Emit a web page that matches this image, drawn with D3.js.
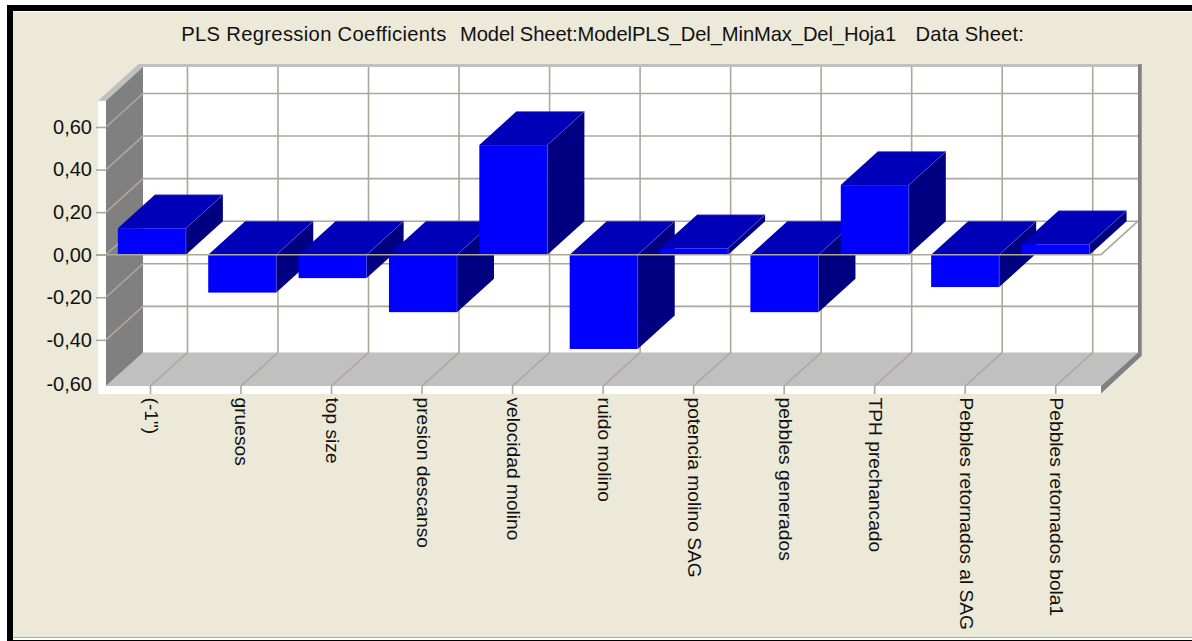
<!DOCTYPE html>
<html>
<head>
<meta charset="utf-8">
<script src="https://cdn.jsdelivr.net/npm/d3@7/dist/d3.min.js"></script>
<style>
html,body{margin:0;padding:0;background:#fff;overflow:hidden}
svg{display:block}
text{font-family:"Liberation Sans",Arial,sans-serif;fill:#111;white-space:pre}
</style>
</head>
<body>
<svg id="chart" width="1192" height="641"></svg>
<script>
// PLS regression coefficients per process variable
const categories = ['(-1")','gruesos','top size','presion descanso','velocidad molino','ruido molino','potencia molino SAG','pebbles generados','TPH prechancado','Pebbles retornados al SAG','Pebbles retornados bola1'];
const coefficients = [0.124,-0.178,-0.11,-0.27,0.515,-0.443,0.03,-0.27,0.327,-0.152,0.049];
const yTicks = [0.6,0.4,0.2,0,-0.2,-0.4,-0.6];
const titleParts = ['PLS Regression Coefficients  ','Model Sheet:ModelPLS_Del_MinMax_Del_Hoja1   ','Data Sheet:'];
const titleStarts = [181.2,460,915.5];
const titleSpacing = [0.33,-0.12,0.18];

const grid = '#aca899', beige = '#ece9d8';
const lineW = 1.6;
const depth = {x:37, y:-33.5};
const svg = d3.select('#chart');

// Bars and gridlines sit on slightly different category steps
const x = d3.scaleBand().domain(categories).range([106.7,1100.7]).paddingInner(0.247).paddingOuter(0.1235);
const gridX = d3.scaleBand().domain(categories).range([105.2,1101]);
const y = d3.scaleLinear().domain([0,0.6]).range([254.7,127]);
const floorY = 386, ceilY = 100.7, leftX = 106, rightX = 1101;
const poly = pts => pts.map(p=>p.join(',')).join(' ');
const back = (px,py) => [px+depth.x, py+depth.y];
const gridCentre = c => gridX(c)+gridX.bandwidth()/2;

// Page frame
svg.append('rect').attr('x',7).attr('y',5).attr('width',1185).attr('height',636).attr('fill','#000');
svg.append('rect').attr('x',13).attr('y',11).attr('width',1179).attr('height',629).attr('fill','#fff');
svg.append('rect').attr('x',13).attr('y',12).attr('width',1179).attr('height',625).attr('fill',beige);
svg.append('rect').attr('x',13).attr('y',637).attr('width',1179).attr('height',1).attr('fill',grid);

const title = svg.append('text').attr('y',41).attr('font-size',20.2);
titleParts.forEach((t,i)=>title.append('tspan').attr('x',titleStarts[i]).attr('letter-spacing',titleSpacing[i]).text(t));

// 3D box: front strips, walls, floor
svg.append('rect').attr('x',98).attr('y',ceilY).attr('width',8).attr('height',293.5).attr('fill','#fff');
svg.append('rect').attr('x',98).attr('y',floorY).attr('width',rightX-98).attr('height',8).attr('fill','#fff');
svg.append('polygon').attr('points',poly([[98,ceilY],[138.5,64],[1141.7,64],[1138,67],[143,67],[leftX,ceilY]])).attr('fill','#c0c0c0');
svg.append('rect').attr('x',143).attr('y',67).attr('width',995).attr('height',286.5).attr('fill','#fff');
svg.append('polygon').attr('points',poly([[leftX,ceilY],[143,67],[143,353],[leftX,floorY]])).attr('fill','#808080');
svg.append('polygon').attr('points',poly([[leftX,floorY],[143,352.5],[1138,352.5],[rightX,floorY]])).attr('fill','#c0c0c0');
svg.append('polygon').attr('points',poly([[1138,64.5],[1141.7,64],[1141.7,355.7],[rightX,393.5],[rightX,floorY],[1138,352.5]])).attr('fill','#808080');

// Gridlines on the walls and the floor
const gridLayer = svg.append('g').attr('stroke',grid).attr('stroke-width',lineW).attr('fill','none');
yTicks.filter(v=>v>-0.6).forEach(v=>{
  const [bx,by] = back(leftX,y(v));
  gridLayer.append('polyline').attr('points',poly([[leftX,y(v)],[bx,by],[1138,by]]));
});
categories.forEach(c=>{
  const fx = gridCentre(c);
  const [bx,by] = back(fx,floorY);
  gridLayer.append('polyline').attr('points',poly([[fx,floorY],[bx,by],[bx,67]]));
});
// Zero plane edge on the right-hand side
gridLayer.append('line').attr('x1',1138).attr('y1',y(0)+depth.y).attr('x2',rightX).attr('y2',y(0));

// Bars, painted left to right so nearer faces overlap
const bars = svg.append('g').selectAll('g').data(coefficients).join('g');
const bw = x.bandwidth();
bars.each(function(v,i){
  const g = d3.select(this);
  const l = x(categories[i]), r = l+bw;
  const top = y(Math.max(v,0)), bot = y(Math.min(v,0));
  g.append('polygon').attr('points',poly([[r,top],back(r,top),back(r,bot),[r,bot]])).attr('fill','#000080');
  g.append('polygon').attr('points',poly([[l,top],back(l,top),back(r,top),[r,top]])).attr('fill','#0000b8');
  g.append('rect').attr('x',l).attr('y',top).attr('width',bw).attr('height',bot-top).attr('fill','#0000ff');
  g.append('polyline').attr('points',poly([back(l,top),back(r,top),[r,top],[r,bot]])).attr('fill','none').attr('stroke','#5a5ad0').attr('stroke-width',0.6);
});

// Zero baseline crosses in front of the bars
svg.append('line').attr('x1',96).attr('x2',rightX).attr('y1',y(0)).attr('y2',y(0)).attr('stroke',grid).attr('stroke-width',lineW);

// Value axis
const comma = d3.formatLocale({decimal:',',thousands:'.',grouping:[3],currency:['',''],minus:'-'}).format('.2f');
const yAxis = svg.append('g').attr('transform',`translate(${leftX},0)`)
  .call(d3.axisLeft(y).tickValues(yTicks).tickFormat(comma).tickSize(10).tickPadding(4));
yAxis.attr('font-family',null);
yAxis.select('.domain').remove();
yAxis.selectAll('.tick line').attr('stroke',grid).attr('stroke-width',lineW).filter(d=>d===-0.6).remove();
yAxis.selectAll('.tick text').attr('font-size',20).attr('dy','6.4px').filter(d=>d===-0.6).attr('dy','7.6px');

// Category axis with labels reading downward
const xAxis = svg.append('g').attr('transform',`translate(0,${floorY})`)
  .call(d3.axisBottom(gridX).tickSize(8));
xAxis.attr('font-family',null);
xAxis.select('.domain').remove();
xAxis.selectAll('.tick line').attr('stroke',grid).attr('stroke-width',lineW);
xAxis.selectAll('.tick text').attr('font-size',19.2).attr('text-anchor','start').attr('dy','5.5px')
  .attr('x',0).attr('y',0).attr('transform','translate(0,11.5) rotate(90)');
</script>
</body>
</html>
